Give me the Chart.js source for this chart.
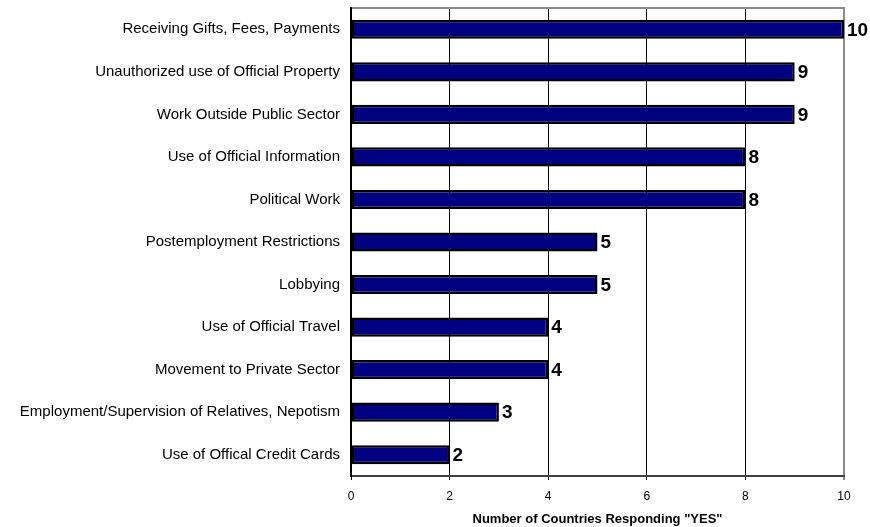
<!DOCTYPE html>
<html lang="en">
<head>
  <meta charset="UTF-8" />
  <title>Ethics Rules Survey</title>
  <script src="https://cdn.jsdelivr.net/npm/chart.js"></script>
  <style>
    html, body { margin: 0; padding: 0; background: #fff; }
    #wrap { width: 870px; height: 527px; }
  </style>
</head>
<body>
  <div id="wrap"><canvas id="surveyChart"></canvas></div>

  <script>
    const categories = [
      'Receiving Gifts, Fees, Payments',
      'Unauthorized use of Official Property',
      'Work Outside Public Sector',
      'Use of Official Information',
      'Political Work',
      'Postemployment Restrictions',
      'Lobbying',
      'Use of Official Travel',
      'Movement to Private Sector',
      'Employment/Supervision of Relatives, Nepotism',
      'Use of Offical Credit Cards'
    ];
    const countries = [10, 9, 9, 8, 8, 5, 5, 4, 4, 3, 2];
    const xTicks = [0, 2, 4, 6, 8, 10];
    const axisTitle = 'Number of Countries Responding "YES"';

    const font = 'Arial, "Liberation Sans", sans-serif';

    // Writes the count just past the end of each bar
    const valueLabels = {
      id: 'valueLabels',
      afterDatasetsDraw(chart) {
        const ctx = chart.ctx;
        const meta = chart.getDatasetMeta(0);
        ctx.save();
        ctx.font = 'bold 19px ' + font;
        ctx.fillStyle = '#000';
        ctx.textAlign = 'left';
        ctx.textBaseline = 'middle';
        meta.data.forEach((bar, i) => {
          ctx.fillText(String(countries[i]), bar.x + 3, bar.y + 1);
        });
        ctx.restore();
      }
    };

    new Chart(document.getElementById('surveyChart'), {
      type: 'bar',
      data: {
        labels: categories,
        datasets: [{
          data: countries,
          backgroundColor: '#000080',
          borderColor: '#000',
          borderWidth: 2.5,
          borderSkipped: false,
          barPercentage: 0.45,
          categoryPercentage: 1
        }]
      },
      options: {
        indexAxis: 'y',
        responsive: true,
        maintainAspectRatio: false,
        animation: false,
        layout: { padding: { top: 8, right: 26, bottom: 0, left: 0 } },
        plugins: {
          legend: { display: false },
          tooltip: { enabled: false }
        },
        scales: {
          x: {
            min: 0,
            max: 10,
            afterBuildTicks: scale => { scale.ticks = xTicks.map(v => ({ value: v })); },
            afterFit: scale => { scale.height = 51; },
            ticks: {
              color: '#000',
              font: { family: font, size: 12 },
              padding: 9,
              maxRotation: 0
            },
            grid: {
              color: ctx => ctx.tick && ctx.tick.value === 10 ? '#8c8c8c' : '#000',
              lineWidth: ctx => ctx.tick && ctx.tick.value === 10 ? 2 : 1,
              tickLength: 4
            },
            border: { color: '#404040', width: 2 },
            title: {
              display: true,
              text: axisTitle,
              color: '#000',
              font: { family: font, size: 13, weight: 'bold' },
              padding: { top: 2, bottom: 0 }
            }
          },
          xTop: {
            axis: 'x',
            position: 'top',
            min: 0,
            max: 10,
            afterFit: scale => { scale.height = 0; },
            ticks: { display: false },
            grid: { display: false, drawTicks: false },
            border: { color: '#8c8c8c', width: 2 }
          },
          y: {
            afterFit: scale => {
              scale.width = 351;
              // category labels sit inside their bands, no overhang needed
              scale.paddingTop = 0;
              scale.paddingBottom = 0;
            },
            ticks: {
              color: '#000',
              font: { family: font, size: 15 },
              padding: 3
            },
            grid: { display: false },
            border: { color: '#000', width: 2 }
          }
        }
      },
      plugins: [valueLabels]
    });
  </script>
</body>
</html>
